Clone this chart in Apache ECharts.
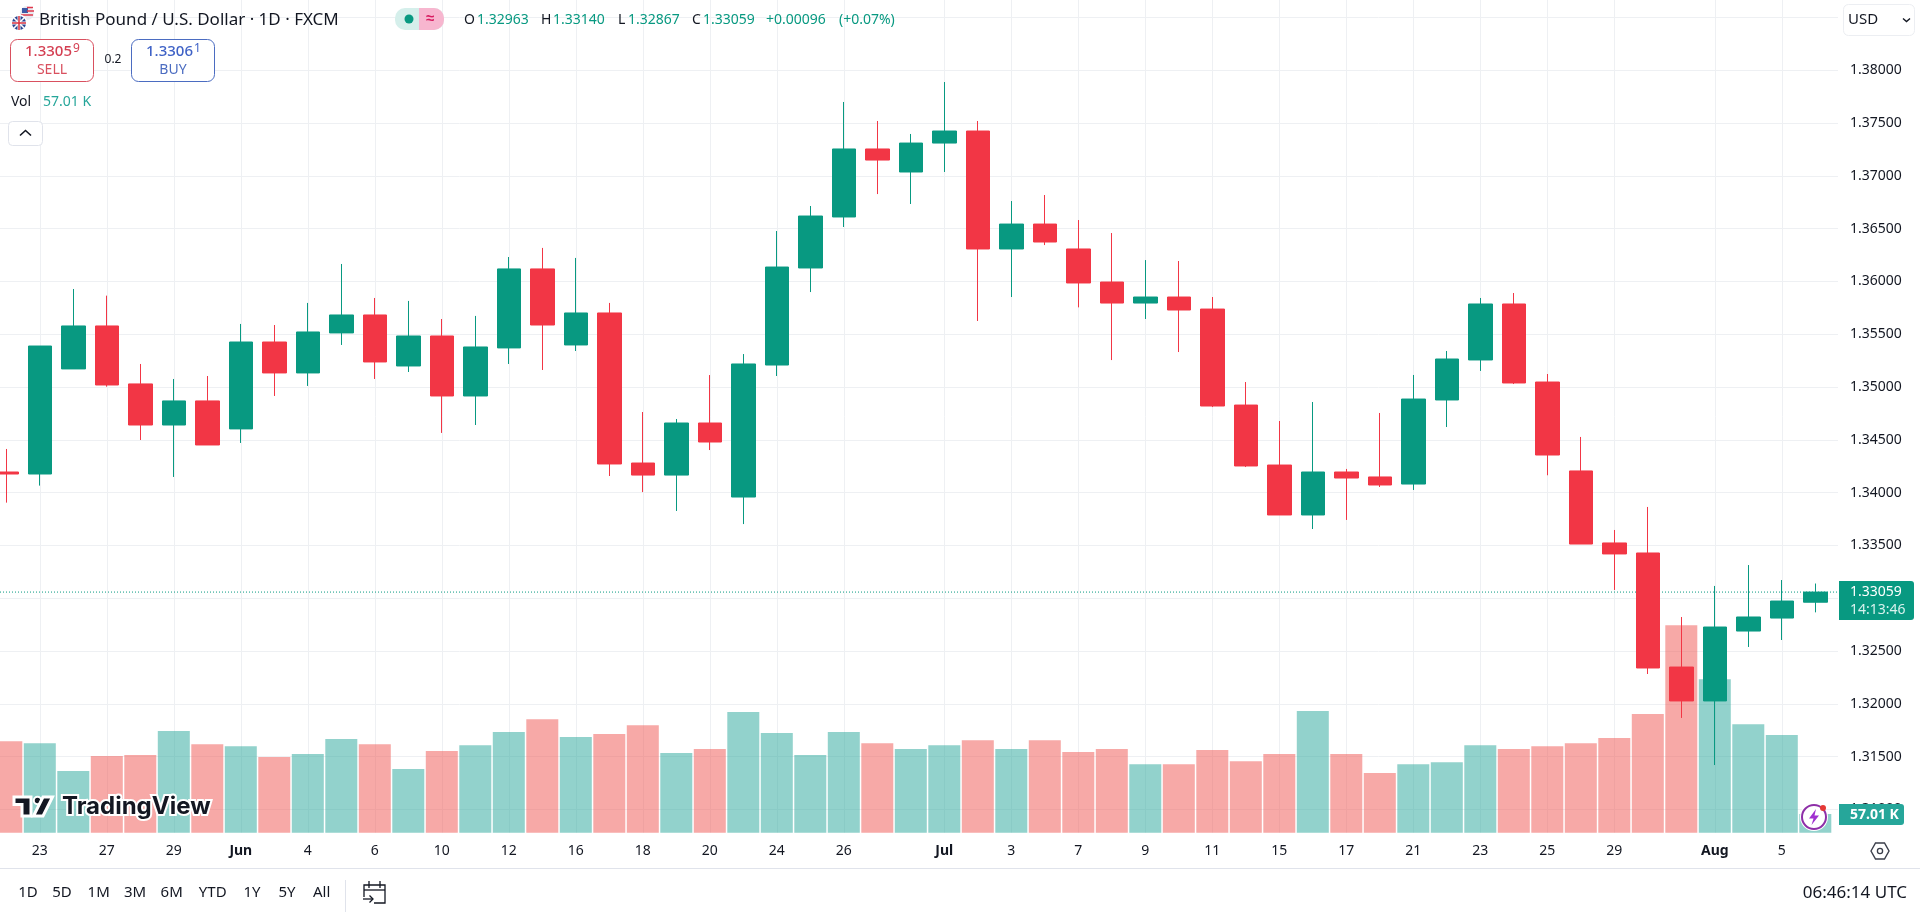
<!DOCTYPE html>
<html><head><meta charset="utf-8">
<style>html,body{margin:0;padding:0;background:#fff;overflow:hidden}#c{width:1920px;height:912px}</style>
<script src="https://cdn.jsdelivr.net/npm/echarts@6/dist/echarts.min.js"></script>
</head><body><div id="c"></div>
<script>
const categories=['May 22','May 23','May 26','May 27','May 28','May 29','May 30','Jun 2','Jun 3','Jun 4','Jun 5','Jun 6','Jun 9','Jun 10','Jun 11','Jun 12','Jun 13','Jun 16','Jun 17','Jun 18','Jun 19','Jun 20','Jun 23','Jun 24','Jun 25','Jun 26','Jun 27','Jun 30','Jul 1','Jul 2','Jul 3','Jul 4','Jul 7','Jul 8','Jul 9','Jul 10','Jul 11','Jul 14','Jul 15','Jul 16','Jul 17','Jul 18','Jul 21','Jul 22','Jul 23','Jul 24','Jul 25','Jul 28','Jul 29','Jul 30','Jul 31','Aug 1','Aug 4','Aug 5','Aug 6'];
const tickLabels=['','23','','27','','29','','Jun','','4','','6','','10','','12','','16','','18','','20','','24','','26','','','Jul','','3','','7','','9','','11','','15','','17','','21','','23','','25','','29','','','Aug','','5',''];
const opens=[1.34196,1.34177,1.35172,1.35579,1.35030,1.34641,1.34869,1.34604,1.35427,1.35134,1.35513,1.35683,1.35200,1.35484,1.34916,1.35371,1.36119,1.35399,1.35702,1.34281,1.34167,1.34660,1.33959,1.35209,1.36128,1.36611,1.37255,1.37037,1.37311,1.37425,1.36308,1.36544,1.36308,1.35995,1.35796,1.35853,1.35739,1.34830,1.34262,1.33789,1.34196,1.34149,1.34082,1.34878,1.35257,1.35787,1.35048,1.34206,1.33524,1.33429,1.32349,1.32028,1.32690,1.32813,1.32963];
const highs=[1.34414,1.35389,1.35929,1.35866,1.35219,1.35077,1.35105,1.35598,1.35588,1.35797,1.36166,1.35844,1.35816,1.35645,1.35674,1.36232,1.36318,1.36223,1.35797,1.34764,1.34698,1.35114,1.35313,1.36478,1.36715,1.37700,1.37520,1.37397,1.37889,1.37520,1.36762,1.36819,1.36582,1.36459,1.36203,1.36194,1.35853,1.35048,1.34679,1.34859,1.34225,1.34755,1.35115,1.35342,1.35844,1.35891,1.35124,1.34528,1.33647,1.33865,1.32823,1.33117,1.33315,1.33173,1.33140];
const lows=[1.33906,1.34067,1.35172,1.35004,1.34499,1.34149,1.34452,1.34471,1.34916,1.35011,1.35399,1.35077,1.35143,1.34566,1.34641,1.35219,1.35162,1.35342,1.34158,1.34006,1.33827,1.34404,1.33703,1.35105,1.35900,1.36516,1.36828,1.36734,1.37037,1.35626,1.35853,1.36345,1.35755,1.35256,1.35645,1.35332,1.34811,1.34243,1.33789,1.33656,1.33742,1.34054,1.34026,1.34622,1.35153,1.35029,1.34165,1.33514,1.33079,1.32283,1.31867,1.31421,1.32539,1.32605,1.32867];
const closes=[1.34177,1.35389,1.35579,1.35020,1.34641,1.34869,1.34452,1.35427,1.35134,1.35522,1.35683,1.35238,1.35484,1.34916,1.35380,1.36119,1.35588,1.35702,1.34272,1.34167,1.34660,1.34480,1.35219,1.36137,1.36620,1.37255,1.37150,1.37311,1.37425,1.36308,1.36544,1.36374,1.35986,1.35796,1.35853,1.35730,1.34821,1.34253,1.33789,1.34196,1.34139,1.34073,1.34887,1.35266,1.35787,1.35039,1.34357,1.33514,1.33420,1.32340,1.32028,1.32728,1.32823,1.32974,1.33059];
const volumes=[279,273,188,234,237,310,270,264,231,240,286,270,194,249,267,307,346,292,301,328,243,255,368,304,237,307,273,255,267,282,255,282,246,255,209,209,252,218,240,371,240,182,209,215,267,255,264,273,289,362,633,468,331,298,57.01];
const lastPrice=[1.33059,1.33059];

const GREEN='#089981',RED='#F23645',INK='#131722',GRID='#eef0f3';
const FONT='"Noto Sans",sans-serif';
const BAND=33.5,LEFT=6.3,W=BAND*(categories.length-1);

const T=(x,y,text,o={})=>({type:'text',z:100,x,y,style:{text,fontFamily:o.ff||FONT,fontSize:o.s||14,fontWeight:o.w||'normal',fill:o.c||INK,textVerticalAlign:'middle',textAlign:o.a||'left',stroke:o.stroke,lineWidth:o.lw}});
const R=(x,y,w,h,o={})=>({type:'rect',z:o.z||99,shape:{x,y,width:w,height:h,r:o.r||0},style:{fill:o.f||'#fff',stroke:o.s||null,lineWidth:o.lw||1}});
const L=(pts,o={})=>({type:'polyline',z:o.z||101,shape:{points:pts},style:{fill:null,stroke:o.s||INK,lineWidth:o.lw||1.5}});
const P=(pts,f,o={})=>({type:'polygon',z:o.z||101,shape:{points:pts},style:{fill:f,stroke:o.s||null,lineWidth:o.lw||0}});
const C=(x,y,r,o={})=>({type:'circle',z:o.z||101,shape:{cx:x,cy:y,r},style:{fill:o.f||null,stroke:o.s||null,lineWidth:o.lw||1}});

const elements=[
 // flags
 C(27,13,7,{f:'#e8eaf0'}),R(22,8,6,5,{f:'#3c5aa6',z:101}),L([[27,7.5],[33,7.5]],{s:'#e0384c',lw:1.5}),L([[27,11],[34,11]],{s:'#e0384c',lw:1.5}),L([[21,15],[33,15]],{s:'#e0384c',lw:1.5}),
 C(19,23,8.5,{f:'#fff',z:102}),C(19,23,7,{f:'#2b4590',z:102}),
 L([[14,18],[24,28]],{s:'#fff',lw:1.6,z:103}),L([[24,18],[14,28]],{s:'#fff',lw:1.6,z:103}),L([[12,23],[26,23]],{s:'#fff',lw:3,z:103}),L([[19,16],[19,30]],{s:'#fff',lw:3,z:103}),L([[12,23],[26,23]],{s:'#d8323f',lw:1.5,z:104}),L([[19,16],[19,30]],{s:'#d8323f',lw:1.5,z:104}),
 T(39,20,'British Pound / U.S. Dollar · 1D · FXCM',{s:17}),
 // status pill
 R(395,8,49,22,{f:'#d5efeb',r:10}),{type:'rect',z:100,shape:{x:419,y:8,width:25,height:22,r:[0,10,10,0]},style:{fill:'#f7b6cf'}},
 C(409,19,4.5,{f:GREEN}),T(430,19,'≈',{s:15,c:'#d81b60',a:'center',w:'bold'}),
 // OHLC
 T(464,20,'O',{s:14}),T(477,20,'1.32963',{s:14,c:GREEN}),T(541,20,'H',{s:14}),T(553,20,'1.33140',{s:14,c:GREEN}),
 T(618,20,'L',{s:14}),T(628,20,'1.32867',{s:14,c:GREEN}),T(692,20,'C',{s:14}),T(703,20,'1.33059',{s:14,c:GREEN}),
 T(766,20,'+0.00096',{s:14,c:GREEN}),T(839,20,'(+0.07%)',{s:14,c:GREEN}),
 // sell/buy
 R(10.5,39.5,83,42,{s:'#d9505f',r:7}),T(25,52,'1.3305',{s:15,c:'#d43f52',w:'500'}),T(73,49,'9',{s:12,c:'#d43f52'}),T(52,70,'SELL',{s:14,c:'#d9505f',a:'center'}),
 T(113,60,'0.2',{s:12,a:'center'}),
 R(131.5,39.5,83,42,{s:'#4b6cc1',r:7}),T(146,52,'1.3306',{s:15,c:'#3f62c6',w:'500'}),T(194,49,'1',{s:12,c:'#3f62c6'}),T(173,70,'BUY',{s:14,c:'#4b6cc1',a:'center'}),
 // vol legend
 T(11,102,'Vol',{s:14}),T(43,102,'57.01 K',{s:14,c:'#26a69a'}),
 R(8.5,121.5,34,24,{s:'#e0e3eb',r:4}),L([[20,135.5],[25.5,130.5],[31,135.5]],{lw:1.6}),
 // USD
 R(1843.5,4.5,71,31,{s:'#eceef2',r:5}),T(1848,20,'USD',{s:15}),L([[1903,18.5],[1906.5,21.5],[1910,18.5]],{lw:1.4}),
 // price pills
 R(1839,581,75,39,{f:GREEN,r:[0,3,3,0]}),T(1850,592,'1.33059',{s:14,c:'#fff'}),T(1850,610,'14:13:46',{s:14,c:'#d9f2ee'}),
 R(1839,804,65,21,{f:'#26a69a',r:[0,3,3,0]}),T(1850,815,'57.01 K',{s:14,c:'#fff',w:'bold'}),
 // bolt
 C(1814,817,14,{f:'#fff'}),C(1814,817,12,{s:'#8e2fa8',lw:2}),P([[1816,809],[1809,818.5],[1813.5,818.5],[1811.5,825],[1819,815.5],[1814.5,815.5]],'#a030d0'),C(1823,808,3,{f:'#e53935'}),
 // tradingview logo
 P([[14,797],[31,797],[31,816],[22,816],[22,804.5],[14,804.5]],'#131722',{s:'#fff',lw:3}),
 C(37.5,800.5,3.7,{f:'#131722',s:'#fff',lw:2}),
 P([[43,797],[52.5,797],[43,816],[33.5,816]],'#131722',{s:'#fff',lw:3}),
 T(62,807,'TradingView',{s:24,w:'700',ff:'Inter,sans-serif',stroke:'#fff',lw:4}),
 // x-axis separator
 {type:'line',z:50,shape:{x1:0,y1:868.5,x2:1920,y2:868.5},style:{stroke:'#e0e3eb',lineWidth:1}},
 // settings hexagon
 P([[1871,851],[1875.5,843],[1884.5,843],[1889,851],[1884.5,859],[1875.5,859]],'#fff',{s:'#3a3e4a',lw:1.4}),C(1880,851,2.6,{s:'#3a3e4a',lw:1.3}),
 // range row
 ...[['1D',28],['5D',62],['1M',98.7],['3M',135],['6M',171.7],['YTD',212.7],['1Y',252],['5Y',287],['All',321.7]].map(a=>T(a[1],893,a[0],{s:15,a:'center'})),
 {type:'line',z:50,shape:{x1:345.5,y1:880,x2:345.5,y2:912},style:{stroke:'#e0e3eb',lineWidth:1}},
 L([[364,897],[364,885],[385,885],[385,903],[374,903]],{lw:1.3}),L([[364,890],[385,890]],{lw:1.3}),L([[369,881],[369,888]],{lw:1.3}),L([[380,881],[380,888]],{lw:1.3}),
 L([[363,899],[373,899]],{lw:1.3}),L([[369.5,895.5],[373,899],[369.5,902.5]],{lw:1.3}),
 T(1907,893,'06:46:14 UTC',{s:17,a:'right'})
];

const chart=echarts.init(document.getElementById('c'));
chart.setOption({
 animation:false,backgroundColor:'#fff',
 grid:[
  {left:LEFT,width:W,top:0,height:832.7},
  {left:0,width:1838,top:17.5,height:792},
  {left:LEFT,width:W,top:17.5,height:792}
 ],
 xAxis:[
  {gridIndex:0,type:'category',data:categories,boundaryGap:false,
   axisLine:{show:false},axisTick:{show:false},
   axisLabel:{interval:i=>tickLabels[i]!=='',margin:11,fontFamily:FONT,fontSize:14,color:INK,
     formatter:(v,i)=>{const t=tickLabels[i];return /^[A-Z]/.test(t)?'{b|'+t+'}':t;},
     rich:{b:{fontFamily:FONT,fontSize:14,fontWeight:'bold',color:INK}}},
   splitLine:{show:true,interval:i=>tickLabels[i]!=='',lineStyle:{color:GRID,width:1}}},
  {gridIndex:1,type:'value',min:0,max:1,show:false},
  {gridIndex:2,type:'category',data:categories,boundaryGap:false,show:false}
 ],
 yAxis:[
  {gridIndex:0,type:'value',min:0,max:2540,show:false},
  {gridIndex:1,type:'value',position:'right',min:1.31,max:1.385,interval:0.005,
   axisLine:{show:false},axisTick:{show:false},
   axisLabel:{margin:12,fontFamily:FONT,fontSize:14,color:INK,formatter:v=>v.toFixed(5)},
   splitLine:{show:true,lineStyle:{color:GRID,width:1}}},
  {gridIndex:2,type:'value',min:1.31,max:1.385,show:false}
 ],
 series:[
  {type:'line',xAxisIndex:1,yAxisIndex:1,data:[[0,lastPrice[0]],[1,lastPrice[1]]],symbol:'none',silent:true,z:1,
   lineStyle:{color:GREEN,width:1,type:[1,2]}},
  {type:'bar',xAxisIndex:0,yAxisIndex:0,barWidth:32,z:2,clip:false,
   data:volumes.map((v,i)=>({value:v,itemStyle:{color:closes[i]>=opens[i]?'rgba(38,166,154,0.5)':'rgba(239,83,80,0.5)'}}))},
  {type:'candlestick',xAxisIndex:2,yAxisIndex:2,barWidth:24,z:3,clip:false,
   data:opens.map((o,i)=>[o,closes[i],lows[i],highs[i]]),
   itemStyle:{color:GREEN,color0:RED,borderColor:GREEN,borderColor0:RED,borderWidth:1}}
 ],
 graphic:{elements}
});
</script></body></html>
